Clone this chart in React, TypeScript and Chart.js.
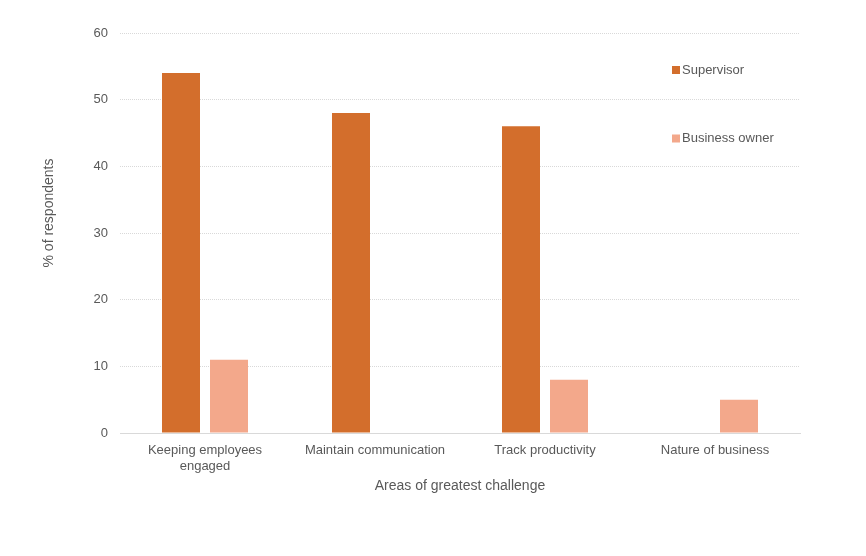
import React, { useEffect, useRef } from "react";
import { Chart, registerables } from "chart.js";

Chart.register(...registerables);

const categories: (string | string[])[] = [
  ["Keeping employees", "engaged"],
  "Maintain communication",
  "Track productivity",
  "Nature of business",
];
const supervisorValues = [54, 48, 46, 0];
const businessOwnerValues = [11, 0, 8, 5];
const seriesLabels = ["Supervisor", "Business owner"];
const seriesColors = ["#D36E2C", "#F3A88B"];
const yTitle = "% of respondents";
const xTitle = "Areas of greatest challenge";

const FONT = "Arial, 'Liberation Sans', sans-serif";
const TEXT = "#595959";

const customPlugin = {
  id: "customDecor",
  afterDraw(chart: any) {
    const ctx = chart.ctx;
    const area = chart.chartArea;
    ctx.save();
    // y axis title
    ctx.fillStyle = TEXT;
    ctx.font = `14px ${FONT}`;
    ctx.textAlign = "center";
    ctx.textBaseline = "middle";
    ctx.translate(49, area.top + (area.bottom - area.top) / 2 - 20);
    ctx.rotate(-Math.PI / 2);
    ctx.fillText(yTitle, 0, 0);
    ctx.restore();

    // legend
    ctx.save();
    ctx.font = `13px ${FONT}`;
    ctx.textAlign = "left";
    ctx.textBaseline = "middle";
    const legendX = area.right - 128;
    const ys = [area.top + 37, area.top + 105.5];
    chart.data.datasets.forEach((ds: any, i: number) => {
      ctx.fillStyle = ds.backgroundColor;
      ctx.fillRect(legendX, ys[i] - 4, 8, 8);
      ctx.fillStyle = TEXT;
      ctx.fillText(ds.label, legendX + 10, ys[i]);
    });
    ctx.restore();
  },
};

export default function App() {
  const ref = useRef<HTMLCanvasElement | null>(null);

  useEffect(() => {
    if (!ref.current) return;
    const chart = new Chart(ref.current, {
      type: "bar",
      data: {
        labels: categories,
        datasets: [
          {
            label: seriesLabels[0],
            data: supervisorValues,
            backgroundColor: seriesColors[0],
            borderWidth: 0,
            categoryPercentage: 0.5647,
            barPercentage: 0.7917,
          },
          {
            label: seriesLabels[1],
            data: businessOwnerValues,
            backgroundColor: seriesColors[1],
            borderWidth: 0,
            categoryPercentage: 0.5647,
            barPercentage: 0.7917,
          },
        ],
      },
      options: {
        animation: false,
        responsive: false,
        maintainAspectRatio: false,
        layout: { padding: { left: 0, top: 33, right: 66, bottom: 0 } },
        plugins: {
          legend: { display: false },
          tooltip: { enabled: false },
        },
        scales: {
          x: {
            grid: { display: false, drawTicks: false },
            border: { display: true, color: "#D9D9D9", width: 1 },
            ticks: {
              color: TEXT,
              font: { family: FONT, size: 13, lineHeight: 1.2 },
              padding: 10,
              maxRotation: 0,
              autoSkip: false,
            },
            title: {
              display: true,
              text: xTitle,
              color: TEXT,
              font: { family: FONT, size: 14, lineHeight: 1.2 },
              padding: { top: 0, bottom: 61 },
            },
            afterFit(scale: any) {
              scale.height = 123;
            },
          },
          y: {
            min: 0,
            max: 60,
            ticks: {
              stepSize: 10,
              color: TEXT,
              font: { family: FONT, size: 13 },
              padding: 12,
            },
            grid: {
              color: "#D9D9D9",
              lineWidth: 1,
              drawTicks: false,
            },
            border: { display: false, dash: [1, 1] },
            afterFit(scale: any) {
              scale.width = 120;
            },
          },
        },
      },
      plugins: [customPlugin],
    } as any);
    return () => chart.destroy();
  }, []);

  return (
    <div style={{ position: "fixed", left: 0, top: 0, width: 866, height: 556, background: "#fff" }}>
      <canvas ref={ref} width={866} height={556} style={{ width: 866, height: 556 }} />
    </div>
  );
}
